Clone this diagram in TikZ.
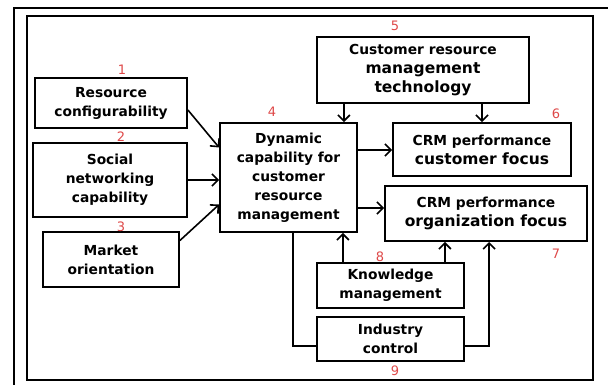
\documentclass[tikz,border=0pt]{standalone}
\usepackage{fontspec}
\setmainfont{DejaVu Sans}
\usetikzlibrary{arrows.meta,calc}
\definecolor{numred}{RGB}{222,72,72}
\begin{document}
\begin{tikzpicture}[x=1pt,y=-1pt,
  box/.style={draw,line width=1.8pt,inner sep=0pt,align=center,
    font=\bfseries\fontsize{13.8}{19}\selectfont},
  num/.style={text=numred,font=\fontsize{13}{13}\selectfont,inner sep=0pt},
  arr/.style={line width=1.6pt,-{Straight Barb[length=6pt,width=12pt,line width=1.6pt]}},
  ln/.style={line width=1.6pt}]
\useasboundingbox (0,0) rectangle (608,385);
% frames
\coordinate (ftl) at (14,8);
\coordinate (ftr) at (608,8);
\coordinate (fbl) at (14,385);
\draw[line width=1.2pt] (ftr) -- (ftl) -- (fbl);
\coordinate (itl) at (27,16);
\coordinate (ibr) at (593,380);
\draw[line width=2.4pt] (itl) rectangle (ibr);
% boxes
\node[box,minimum width=152pt,minimum height=50pt] (b1) at (111,103) {Resource\\configurability};
\node[box,minimum width=154pt,minimum height=74pt] (b2) at (110,180) {Social\\networking\\capability};
\node[box,minimum width=136pt,minimum height=55pt] (b3) at (111,259.5) {Market\\orientation};
\node[box,minimum width=137pt,minimum height=109pt] (b4) at (288.5,177.5) {Dynamic\\capability for\\customer\\resource\\management};
\node[box,minimum width=212pt,minimum height=66pt] (b5) at (423,70) {Customer resource\\{\fontsize{15.5}{20}\selectfont management}\\{\fontsize{15.5}{20}\selectfont technology}};
\node[box,minimum width=178pt,minimum height=53pt] (b6) at (482,149.5) {CRM performance\\{\fontsize{15.5}{19}\selectfont customer focus}};
\node[box,minimum width=202pt,minimum height=55pt] (b7) at (486,213.5) {CRM performance\\{\fontsize{15.5}{19}\selectfont organization focus}};
\node[box,minimum width=147pt,minimum height=45pt] (b8) at (390.5,285.5) {Knowledge\\management};
\node[box,minimum width=147pt,minimum height=44pt] (b9) at (390.5,339) {Industry\\control};
% numbers
\node[num] (n1) at (122,70) {1};
\node[num] (n2) at (121,137) {2};
\node[num] (n3) at (121,227) {3};
\node[num] (n4) at (272,112) {4};
\node[num] (n5) at (395,26) {5};
\node[num] (n6) at (556,114) {6};
\node[num] (n7) at (556,254) {7};
\node[num] (n8) at (380,257) {8};
\node[num] (n9) at (395,371) {9};
% connectors
\draw[arr] ($(b1.east)+(0,7)$) -- ($(b4.west)+(0,-30)$);
\draw[arr] (b2.east) -- (b4.west |- b2.east);
\draw[arr] ($(b3.east)+(0,-19)$) -- ($(b4.west)+(0,27)$);
\coordinate (c54) at ($(b4.north east)+(-14,0)$);
\draw[arr] (b5.south -| c54) -- (c54);
\draw[arr] (b5.south -| b6.north) -- (b6.north);
\coordinate (c46) at ($(b6.west)+(0,0.5)$);
\draw[arr] (b4.east |- c46) -- (c46);
\coordinate (c47) at ($(b4.east)+(0,30.5)$);
\draw[arr] (c47) -- (b7.west |- c47);
\coordinate (c84) at ($(b4.south east)+(-15,0)$);
\draw[arr] (b8.north -| c84) -- (c84);
\coordinate (c87) at ($(b8.north east)+(-20,0)$);
\draw[arr] (c87) -- (b7.south -| c87);
\coordinate (c49) at ($(b4.south)+(4.5,0)$);
\coordinate (c9l) at ($(b9.west)+(0,7)$);
\draw[ln] (c49) |- (c9l);
\coordinate (c9r) at ($(b9.east)+(0,7)$);
\coordinate (c97) at ($(b7.south west)+(105,0)$);
\draw[arr] (c9r) -| (c97);
\end{tikzpicture}
\end{document}
